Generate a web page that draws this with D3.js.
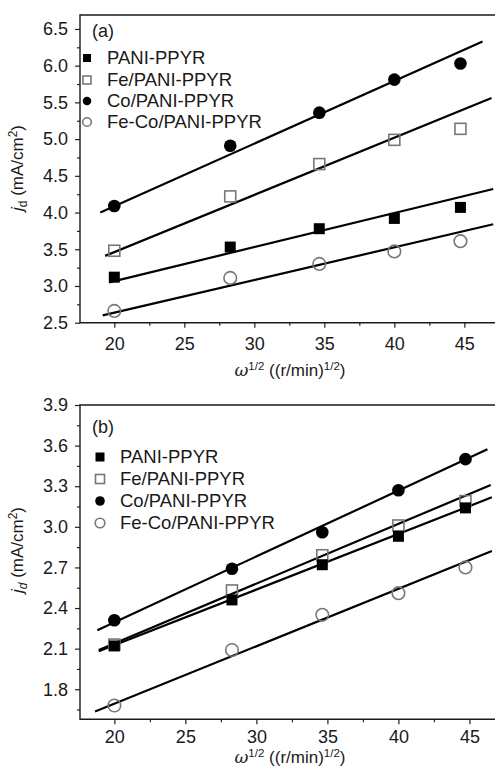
<!DOCTYPE html>
<html><head><meta charset="utf-8">
<script src="https://cdn.jsdelivr.net/npm/d3@7"></script>
<style>body{margin:0;background:#fff}svg{display:block}text{font-family:"Liberation Sans",Arial,sans-serif;fill:#1a1a1a}</style>
</head><body><svg id="c" width="495" height="771"></svg>
<script>
// ---- data ----
const xVals = [20, 28.28, 34.64, 40, 44.72];
const seriesNames = ["PANI-PPYR", "Fe/PANI-PPYR", "Co/PANI-PPYR", "Fe-Co/PANI-PPYR"];
const seriesMarkers = ["fsquare", "osquare", "fcircle", "ocircle"];
// panel (a)
const aPANI = [3.12, 3.53, 3.78, 3.92, 4.07];
const aFe   = [3.48, 4.22, 4.66, 4.99, 5.14];
const aCo   = [4.09, 4.91, 5.36, 5.81, 6.03];
const aFeCo = [2.66, 3.11, 3.30, 3.47, 3.61];
// fitted lines (a): [xStart, yStart, xEnd, yEnd]
const fitA = [[19.64, 3.05, 47.06, 4.32], [19.35, 3.41, 46.94, 5.56], [19.0, 4.0, 46.3, 6.33], [19.17, 2.60, 47.06, 3.84]];
// panel (b)
const bPANI = [2.12, 2.46, 2.72, 2.93, 3.14];
const bFe   = [2.13, 2.53, 2.79, 3.01, 3.19];
const bCo   = [2.31, 2.69, 2.96, 3.27, 3.50];
const bFeCo = [1.68, 2.09, 2.35, 2.51, 2.70];
const fitB = [[18.9, 2.08, 46.58, 3.218], [18.9, 2.09, 46.5, 3.309], [18.8, 2.236, 46.27, 3.573], [18.64, 1.635, 46.58, 2.822]];
// ticks
const xTicks = [20, 25, 30, 35, 40, 45];
const xMinor = [22.5, 27.5, 32.5, 37.5, 42.5];
const yTicksA = [2.5, 3.0, 3.5, 4.0, 4.5, 5.0, 5.5, 6.0, 6.5];
const yMinorA = [2.75, 3.25, 3.75, 4.25, 4.75, 5.25, 5.75, 6.25];
const yTicksB = [1.8, 2.1, 2.4, 2.7, 3.0, 3.3, 3.6, 3.9];
const yMinorB = [1.65, 1.95, 2.25, 2.55, 2.85, 3.15, 3.45, 3.75];

const svg = d3.select("#c");

function panel(cfg) {
  const x = d3.scaleLinear().domain(cfg.xDomain).range([80, 496]);
  const y = d3.scaleLinear().domain(cfg.yDomain).range([cfg.bottom, cfg.top]);
  const g = svg.append("g");

  // axes ticks
  const xa = g.append("g").attr("transform", `translate(0,${cfg.bottom})`)
    .call(d3.axisBottom(x).tickValues(xTicks).tickSize(5).tickPadding(cfg.xPad).tickFormat(d3.format("d")));
  xa.select(".domain").remove();
  xa.selectAll("text").attr("font-size", 18).attr("font-family", "Liberation Sans, Arial").attr("fill", "#1a1a1a");
  xa.selectAll("line").attr("stroke", "#222").attr("stroke-width", 1.2);
  const xm = g.append("g").attr("transform", `translate(0,${cfg.bottom})`)
    .call(d3.axisBottom(x).tickValues(xMinor).tickSize(3).tickFormat(""));
  xm.select(".domain").remove();
  xm.selectAll("line").attr("stroke", "#222").attr("stroke-width", 1.2);

  const ya = g.append("g").attr("transform", "translate(80,0)")
    .call(d3.axisLeft(y).tickValues(cfg.yTicks).tickSize(5).tickPadding(7).tickFormat(d3.format(".1f")));
  ya.select(".domain").remove();
  ya.selectAll("text").attr("font-size", 18).attr("font-family", "Liberation Sans, Arial").attr("fill", "#1a1a1a");
  ya.selectAll("line").attr("stroke", "#222").attr("stroke-width", 1.2);
  const ym = g.append("g").attr("transform", "translate(80,0)")
    .call(d3.axisLeft(y).tickValues(cfg.yMinor).tickSize(3).tickFormat(""));
  ym.select(".domain").remove();
  ym.selectAll("line").attr("stroke", "#222").attr("stroke-width", 1.2);

  // frame
  g.append("path").attr("d", `M496,${cfg.top}H80V${cfg.bottom}H496`)
    .attr("fill", "none").attr("stroke", "#1a1a1a").attr("stroke-width", 1.4);

  // fit lines
  g.selectAll(".fit").data(cfg.fits).join("line")
    .attr("x1", d => x(d[0])).attr("y1", d => y(d[1]))
    .attr("x2", d => x(d[2])).attr("y2", d => y(d[3]))
    .attr("stroke", "#000").attr("stroke-width", 2.2);

  // markers
  function marker(sel, type, size) {
    if (type === "fsquare" || type === "osquare") {
      sel.append("rect").attr("x", -size / 2).attr("y", -size / 2).attr("width", size).attr("height", size)
        .attr("fill", type === "fsquare" ? "#000" : "none")
        .attr("stroke", type === "fsquare" ? "#000" : "#777").attr("stroke-width", type === "fsquare" ? 0 : 1.6);
    } else {
      sel.append("circle").attr("r", size / 2 + 0.3)
        .attr("fill", type === "fcircle" ? "#000" : "none")
        .attr("stroke", type === "fcircle" ? "#000" : "#777").attr("stroke-width", type === "fcircle" ? 0 : 1.6);
    }
  }
  const order = [3, 1, 2, 0];
  order.forEach(si => {
    cfg.series[si].forEach((v, i) => {
      const m = g.append("g").attr("transform", `translate(${x(xVals[i])},${y(v)})`);
      marker(m, seriesMarkers[si], seriesMarkers[si].endsWith("circle") ? 12 : 11);
    });
  });

  // panel label
  g.append("text").attr("x", 92).attr("y", cfg.top + cfg.labelDy).attr("font-size", 18).text(cfg.label);

  // legend
  seriesNames.forEach((n, i) => {
    const cy = cfg.legY[i];
    const m = g.append("g").attr("transform", `translate(${cfg.legMx},${cy})`);
    marker(m, seriesMarkers[i], cfg.legSize);
    g.append("text").attr("x", cfg.legTx).attr("y", cy).attr("dy", "0.35em").attr("font-size", 18.5).text(n);
  });

  // axis titles
  const xt = g.append("text").attr("x", 290).attr("y", cfg.bottom + cfg.titleDy).attr("text-anchor", "middle")
    .attr("font-size", 17);
  xt.append("tspan").attr("font-family", "DejaVu Serif, serif").attr("font-style", "italic").text("ω");
  xt.append("tspan").attr("font-size", 11.5).attr("dy", -6).text("1/2");
  xt.append("tspan").attr("dy", 6).text(" ((r/min)");
  xt.append("tspan").attr("font-size", 11.5).attr("dy", -6).text("1/2");
  xt.append("tspan").attr("dy", 6).text(")");

  const yt = g.append("text").attr("transform", `translate(23,${cfg.yTitleY}) rotate(-90)`)
    .attr("text-anchor", "middle").attr("font-size", 17);
  yt.append("tspan").attr("font-style", "italic").text("j");
  yt.append("tspan").attr("font-size", 12).attr("dy", 4).attr("font-style", cfg.subItalic ? "italic" : "normal").text("d");
  yt.append("tspan").attr("dy", -4).text(" (mA/cm");
  yt.append("tspan").attr("font-size", 12).attr("dy", -6).text("2");
  yt.append("tspan").attr("dy", 6).text(")");
}

panel({
  xDomain: [17.55, 47.26], yDomain: [2.5, 6.69], top: 15, bottom: 322.7,
  yTicks: yTicksA, yMinor: yMinorA, fits: fitA, xPad: 10, titleDy: 53,
  series: [aPANI, aFe, aCo, aFeCo], label: "(a)", labelDy: 22,
  legY: [58, 80, 101, 122], legMx: 87, legTx: 107, legSize: 8, yTitleY: 168, subItalic: false
});
panel({
  xDomain: [17.58, 46.87], yDomain: [1.578, 3.9], top: 405, bottom: 719.3,
  yTicks: yTicksB, yMinor: yMinorB, fits: fitB, xPad: 6, titleDy: 44,
  series: [bPANI, bFe, bCo, bFeCo], label: "(b)", labelDy: 28,
  legY: [457, 479, 501, 523], legMx: 100, legTx: 120, legSize: 9, yTitleY: 550, subItalic: true
});
</script></body></html>
